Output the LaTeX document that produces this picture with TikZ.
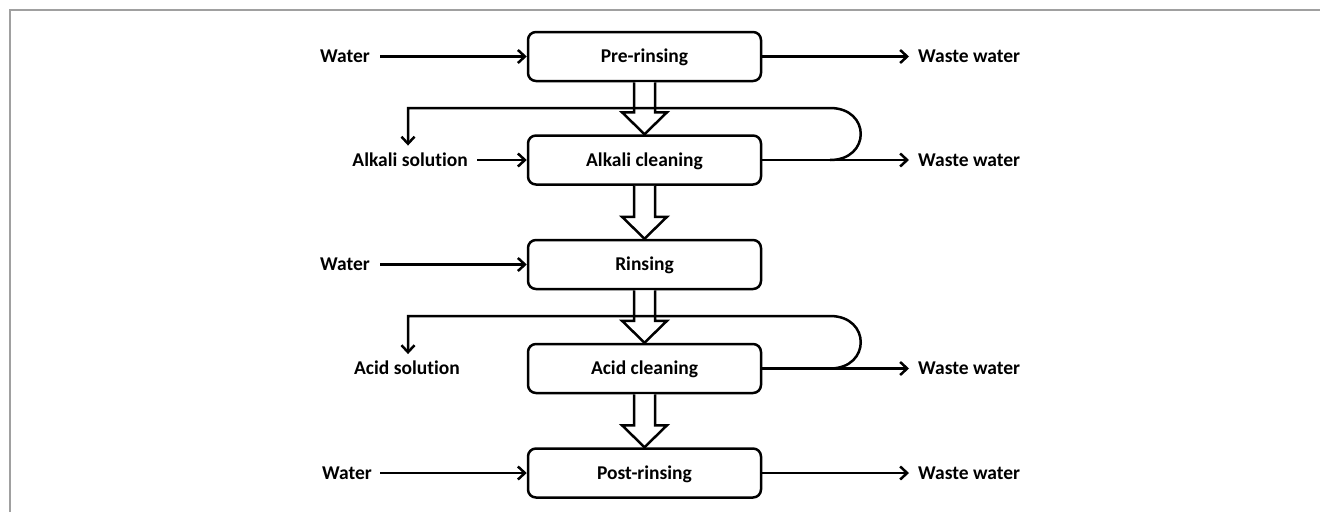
\documentclass[tikz,border=0pt]{standalone}
\usepackage{fontspec}
\setmainfont{Carlito}[Ligatures=NoCommon]
\usetikzlibrary{arrows.meta}
\definecolor{framegray}{HTML}{A0A0A0}
\tikzset{
  stepbox/.style={draw, line width=2.5pt, rounded corners=8pt, minimum width=233pt, minimum height=49pt, inner sep=0pt, text height=12.5pt, text depth=0pt, font=\bfseries\fontsize{19.5}{19.5}\selectfont},
  lbl/.style={inner sep=0pt, text height=12.5pt, text depth=0pt, font=\bfseries\fontsize{19.5}{19.5}\selectfont},
  flow/.style={line width=2.5pt, -{Straight Barb[length=7pt,width=13pt]}},
  hollow/.style={draw, line width=2.5pt, fill=white, line join=miter},
}
\begin{document}
\begin{tikzpicture}[x=1pt,y=-1pt]
\useasboundingbox (0,0) rectangle (1320,512);
\draw[framegray, line width=2pt] (10,512) -- (10,10) -- (1320,10);

% process boxes
\node[stepbox] (pre)  at (644.5,56.5)  {Pre-rinsing};
\node[stepbox] (alk)  at (644.5,160)   {Alkali cleaning};
\node[stepbox] (rin)  at (644.5,264.5) {Rinsing};
\node[stepbox] (acid) at (644.5,368.5) {Acid cleaning};
\node[stepbox] (post) at (644.5,473)   {Post-rinsing};

% left labels
\node[lbl, anchor=east] (w1)  at (370,56.5)  {Water};
\node[lbl, anchor=east] (as)  at (468,160)   {Alkali solution};
\node[lbl, anchor=east] (w3)  at (370,264.5) {Water};
\node[lbl]              (acs) at (407,368.5) {Acid solution};
\node[lbl, anchor=east] (w5)  at (372,473)   {Water};

% right labels
\node[lbl, anchor=west] (ww1) at (918,56.5)  {Waste water};
\node[lbl, anchor=west] (ww2) at (918,160)   {Waste water};
\node[lbl, anchor=west] (ww4) at (918,368.5) {Waste water};
\node[lbl, anchor=west] (ww5) at (918,473)   {Waste water};

% inputs
\draw[flow] ([xshift=10pt]w1.east) -- (pre.west);
\draw[flow] ([xshift=9pt]as.east) -- (alk.west);
\draw[flow] ([xshift=10pt]w3.east) -- (rin.west);
\draw[flow] ([xshift=8pt]w5.east) -- (post.west);

% outputs
\draw[flow] (pre.east) -- ([xshift=-9pt]ww1.west);
\draw[flow] (alk.east) -- ([xshift=-9pt]ww2.west);
\draw[flow] (acid.east) -- ([xshift=-9pt]ww4.west);
\draw[flow] (post.east) -- ([xshift=-9pt]ww5.west);

% hollow block arrows between steps
\foreach \a/\b in {pre/alk, alk/rin, rin/acid, acid/post}{
  \path (\a.south) coordinate (s) (\b.north) coordinate (t);
  \draw[hollow] ([xshift=-10.5pt]s) -- ([xshift=-10.5pt,yshift=22pt]t)
     -- ([xshift=-22.5pt,yshift=22pt]t) -- (t)
     -- ([xshift=22.5pt,yshift=22pt]t) -- ([xshift=10.5pt,yshift=22pt]t)
     -- ([xshift=10.5pt]s);
}

% recycle loops
\coordinate (l1) at (408,108);
\coordinate (l1r) at (830,108);
\coordinate (l1b) at (830,160);
\draw[flow] (l1b) .. controls (871,160) and (871,108) .. (l1r) -- (l1) -- ([yshift=8pt]as.north -| l1);

\coordinate (l2) at (408,316);
\coordinate (l2r) at (830,316);
\coordinate (l2b) at (830,368.5);
\draw[flow] (l2b) .. controls (871,368.5) and (871,316) .. (l2r) -- (l2) -- ([yshift=8pt]acs.north -| l2);
\end{tikzpicture}
\end{document}
